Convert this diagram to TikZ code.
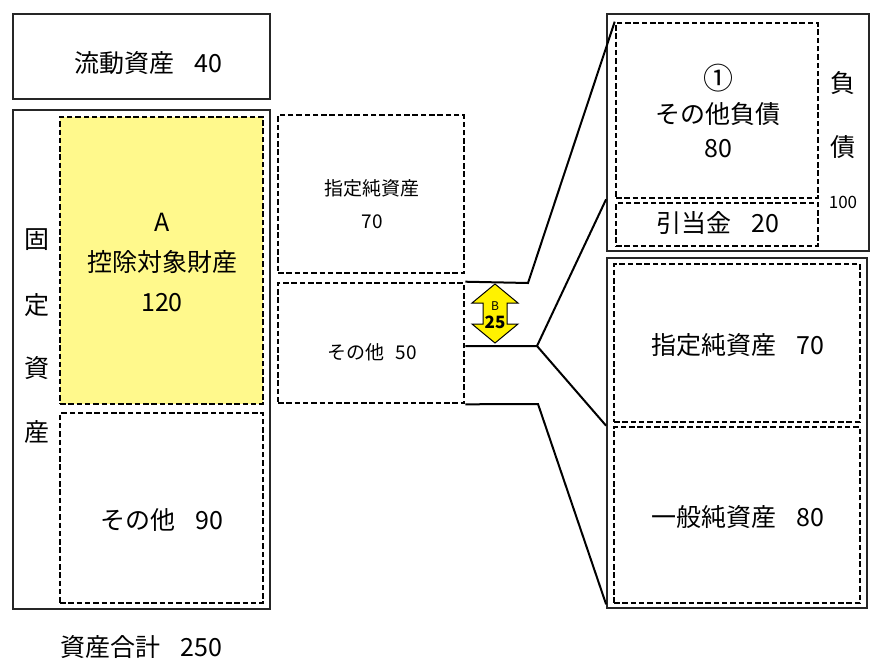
\documentclass[tikz,border=0pt]{standalone}
\usepackage{fontspec}
\setmainfont{Noto Sans CJK JP}
\usetikzlibrary{positioning, calc}

\begin{document}
\begin{tikzpicture}[
  x=1pt, y=-1pt,
  every node/.style={inner sep=0pt, font=\fontsize{25}{29}\selectfont},
  solidbox/.style={draw=black!85, line width=1.8pt, rectangle},
  dashbox/.style={draw=black, line width=2.6pt, dash pattern=on 5.5pt off 2.8pt, rectangle},
  midtxt/.style={font=\fontsize{19}{22}\selectfont},
  link/.style={draw=black, line width=2pt},
  arrowfill/.style={fill=yellow, draw=black, line width=1pt}
]
\useasboundingbox (0,0) rectangle (889,665);

% assets
\node[solidbox, minimum width=257pt, minimum height=85pt] (cur) at (141.5,56.5) {};
\node at (148,63) (curtxt) {流動資産\hspace{0.8em}40};
\node[solidbox, minimum width=257pt, minimum height=499pt] (fixd) at (141.5,359.5) {};
\node[dashbox, fill=yellow!45, minimum width=203pt, minimum height=287pt] (ded) at (161.5,260.5) {};
\node[dashbox, minimum width=203pt, minimum height=190pt] (oth) at (161.5,508) {};
\node[align=center, font=\fontsize{25}{40}\selectfont] at (162,262) (dedtxt) {A\\控除対象財産\\120};
\node at (162,520) (othtxt) {その他\hspace{0.8em}90};
\foreach \c/\y in {固/240, 定/305, 資/368, 産/432}
  \node at (37,\y) {\c};
\node[below=25pt of fixd] (total) {資産合計\hspace{0.8em}250};

% middle
\node[dashbox, minimum width=186pt, minimum height=158pt] (spec) at (371,194) {};
\node[dashbox, minimum width=186pt, minimum height=120pt] (oth50) at (371,343) {};
\node[align=center, font=\fontsize{19}{33}\selectfont] at (372,204) (spectxt) {指定純資産\\70};
\node[midtxt] at (372,352) (othtxt50) {その他\hspace{0.6em}50};

% arrow B
\coordinate (arr) at (495,313.5);
\draw[arrowfill] ($(arr)+(0,-29.5)$) -- ++(23,19) -- ++(-11,0) -- ++(0,21) -- ++(11,0)
  -- ($(arr)+(0,29.5)$) -- ++(-23,-19) -- ++(11,0) -- ++(0,-21) -- ++(-11,0) -- cycle;
\node[font=\fontsize{12}{13}\selectfont] at ($(arr)+(0,-7)$) (btxt) {B};
\node[font=\bfseries\fontsize{17}{18}\selectfont] at ($(arr)+(0,9)$) (bval) {25};

% liabilities
\node[solidbox, minimum width=262pt, minimum height=237pt] (liab) at (738,132.5) {};
\node[dashbox, minimum width=202pt, minimum height=175pt] (liab1) at (717,110.5) {};
\node[dashbox, minimum width=202pt, minimum height=43pt] (allow) at (717,224.5) {};
\node[align=center, font=\fontsize{25}{34}\selectfont] at (718,111) (liabtxt) {{\fontsize{30}{34}\selectfont ①}\\その他負債\\80};
\node at (718,223) (allowtxt) {引当金\hspace{0.8em}20};
\node at (843,83) (f1) {負};
\node at (843,147) (f2) {債};
\node[font=\fontsize{17}{18}\selectfont] at (843,202) (liabsum) {100};

% net assets
\node[solidbox, minimum width=260pt, minimum height=350pt] (net) at (737,433) {};
\node[dashbox, minimum width=246pt, minimum height=158pt] (specnet) at (737,343) {};
\node[dashbox, minimum width=246pt, minimum height=176pt] (gennet) at (737,515) {};
\node at (738,345) (specnettxt) {指定純資産\hspace{0.8em}70};
\node at (738,517) (gennettxt) {一般純資産\hspace{0.8em}80};

% connectors
\coordinate (ktop) at (528,283);
\coordinate (kmid) at (537,346);
\coordinate (kbot) at (538,404);
\draw[link] (oth50.north east) -- (ktop) -- (liab1.north west);
\draw[link] (oth50.east |- kmid) -- (kmid) -- (liab.west |- liab1.south);
\draw[link] (kmid) -- (net.west |- gennet.north);
\draw[link] (oth50.south east) -- (kbot) -- (net.west |- gennet.south);
\end{tikzpicture}
\end{document}
